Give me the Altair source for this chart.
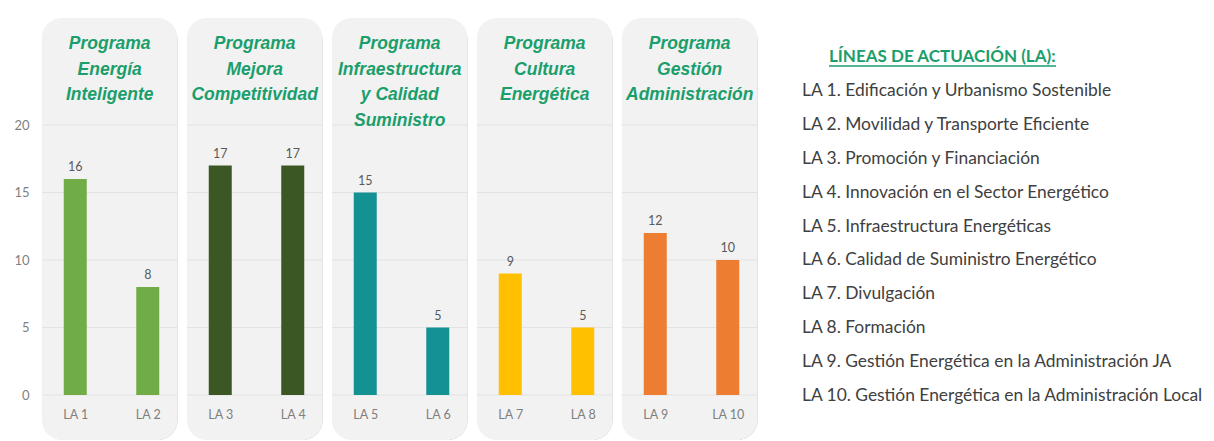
import altair as alt
import pandas as pd

# ---------------- data ----------------
la_labels = ["LA 1", "LA 2", "LA 3", "LA 4", "LA 5", "LA 6", "LA 7", "LA 8", "LA 9", "LA 10"]
la_values = [16, 8, 17, 17, 15, 5, 9, 5, 12, 10]
la_program = [0, 0, 1, 1, 2, 2, 3, 3, 4, 4]

program_titles = [
    "Programa\nEnergía\nInteligente",
    "Programa\nMejora\nCompetitividad",
    "Programa\nInfraestructura\ny Calidad\nSuministro",
    "Programa\nCultura\nEnergética",
    "Programa\nGestión\nAdministración",
]
program_colors = ["#70ad47", "#3b5723", "#149193", "#ffc000", "#ed7d31"]

y_ticks = [0, 5, 10, 15, 20]

legend_header = "LÍNEAS DE ACTUACIÓN (LA):"
legend_items = [
    "LA 1. Edificación y Urbanismo Sostenible",
    "LA 2. Movilidad y Transporte Eficiente",
    "LA 3. Promoción y Financiación",
    "LA 4. Innovación en el Sector Energético",
    "LA 5. Infraestructura Energéticas",
    "LA 6. Calidad de Suministro Energético",
    "LA 7. Divulgación",
    "LA 8. Formación",
    "LA 9. Gestión Energética en la Administración JA",
    "LA 10. Gestión Energética en la Administración Local",
]

# ---------------- tables ----------------
prog_keys = [f"P{i+1}" for i in range(len(program_titles))]
bars = pd.DataFrame({
    "idx": list(range(1, len(la_labels) + 1)),
    "label": la_labels,
    "value": la_values,
    "program": [prog_keys[p] for p in la_program],
})

PAD_L, PAD_R = 0.46, 0.41
rows = []
for p, key in enumerate(prog_keys):
    members = [i + 1 for i, q in enumerate(la_program) if q == p]
    x0 = min(members) - PAD_L
    x1 = max(members) + PAD_R
    rows.append({"program": key, "x0": x0, "x1": x1, "xc": (x0 + x1) / 2,
                 "title": program_titles[p]})
panels = pd.DataFrame(rows)
grid = panels.merge(pd.DataFrame({"tick": y_ticks}), how="cross")

legend = pd.DataFrame({
    "row": list(range(0, len(legend_items) + 1)),
    "text": [legend_header] + legend_items,
    "kind": ["header"] + ["item"] * len(legend_items),
})

# ---------------- left chart ----------------
W, H = 725, 392
xscale = alt.Scale(domain=[0.5, 10.5], nice=False, zero=False, padding=0)
yscale = alt.Scale(domain=[-0.74, 28.3], nice=False, zero=False, padding=0)
label_expr = "[" + ",".join(f"'{l}'" for l in la_labels) + "][datum.value - 1]"

xaxis = alt.Axis(values=list(range(1, 11)), labelExpr=label_expr, ticks=False,
                 domain=False, grid=False, title=None, labelColor="#7f7f7f",
                 labelFontSize=12.5, labelFont="Lato", labelPadding=3, zindex=1)
yaxis = alt.Axis(values=y_ticks, ticks=False, domain=False, grid=False, title=None,
                 labelColor="#7f7f7f", labelFontSize=13, labelFont="Lato",
                 labelPadding=10)

base_p = alt.Chart(panels)
shadow2 = base_p.mark_rect(cornerRadius=20, color="#cccccc", opacity=0.6,
                           xOffset=4, yOffset=4).encode(
    x=alt.X("x0:Q", scale=xscale, axis=xaxis), x2="x1:Q",
    y=alt.value(5), y2=alt.value(427))
shadow1 = base_p.mark_rect(cornerRadius=20, color="#a8a8a8", opacity=0.75,
                           xOffset=2, yOffset=2).encode(
    x=alt.X("x0:Q", scale=xscale), x2="x1:Q",
    y=alt.value(5), y2=alt.value(427))
panel = base_p.mark_rect(cornerRadius=20, color="#f2f2f2").encode(
    x=alt.X("x0:Q", scale=xscale), x2="x1:Q",
    y=alt.value(5), y2=alt.value(427))

gridlines = alt.Chart(grid).mark_rule(color="#e3e3e3", strokeWidth=1).encode(
    x=alt.X("x0:Q", scale=xscale), x2="x1:Q",
    y=alt.Y("tick:Q", scale=yscale, axis=yaxis))

bar = alt.Chart(bars).mark_bar(size=23).encode(
    x=alt.X("idx:Q", scale=xscale),
    y=alt.Y("value:Q", scale=yscale),
    color=alt.Color("program:N", scale=alt.Scale(domain=prog_keys, range=program_colors),
                    legend=None))

vals = alt.Chart(bars).mark_text(baseline="bottom", dy=-5, font="Lato", fontSize=12.5,
                                 color="#595959").encode(
    x=alt.X("idx:Q", scale=xscale),
    y=alt.Y("value:Q", scale=yscale),
    text="value:Q")

titles = base_p.mark_text(baseline="top", align="center", lineBreak="\n",
                          lineHeight=25.7, font="Liberation Sans Narrow, Liberation Sans",
                          fontSize=17.5, fontStyle="italic", fontWeight="bold",
                          color="#1a9e6b").encode(
    x=alt.X("xc:Q", scale=xscale),
    y=alt.value(22),
    text="title:N")

left = alt.layer(shadow2, shadow1, panel, gridlines, bar, vals, titles).properties(
    width=W, height=H)

# ---------------- right chart (legend text) ----------------
lscale = alt.Scale(domain=[-1.298, 10.265], reverse=True, nice=False, zero=False)
base_l = alt.Chart(legend)
items = base_l.transform_filter("datum.kind == 'item'").mark_text(
    align="left", baseline="middle", font="Lato", fontSize=17.4, color="#404040").encode(
    x=alt.value(0), y=alt.Y("row:Q", scale=lscale, axis=None), text="text:N")
header = base_l.transform_filter("datum.kind == 'header'").mark_text(
    align="left", baseline="middle", font="Lato", fontSize=17, fontWeight="bold",
    color="#1a9e6b").encode(
    x=alt.value(27), y=alt.Y("row:Q", scale=lscale, axis=None), text="text:N")
underline = base_l.transform_filter("datum.kind == 'header'").mark_rule(
    color="#1a9e6b", strokeWidth=1.4, yOffset=9).encode(
    x=alt.value(27), x2=alt.value(254), y=alt.Y("row:Q", scale=lscale, axis=None))

right = alt.layer(items, header, underline).properties(width=390, height=H)

chart = alt.hconcat(left, right, spacing=38).properties(
    padding={"left": 5, "top": 5, "right": 0, "bottom": 0},
    background="white",
).configure_view(stroke=None)

chart.save("out.html", embed_options={"renderer": "svg", "actions": False})
